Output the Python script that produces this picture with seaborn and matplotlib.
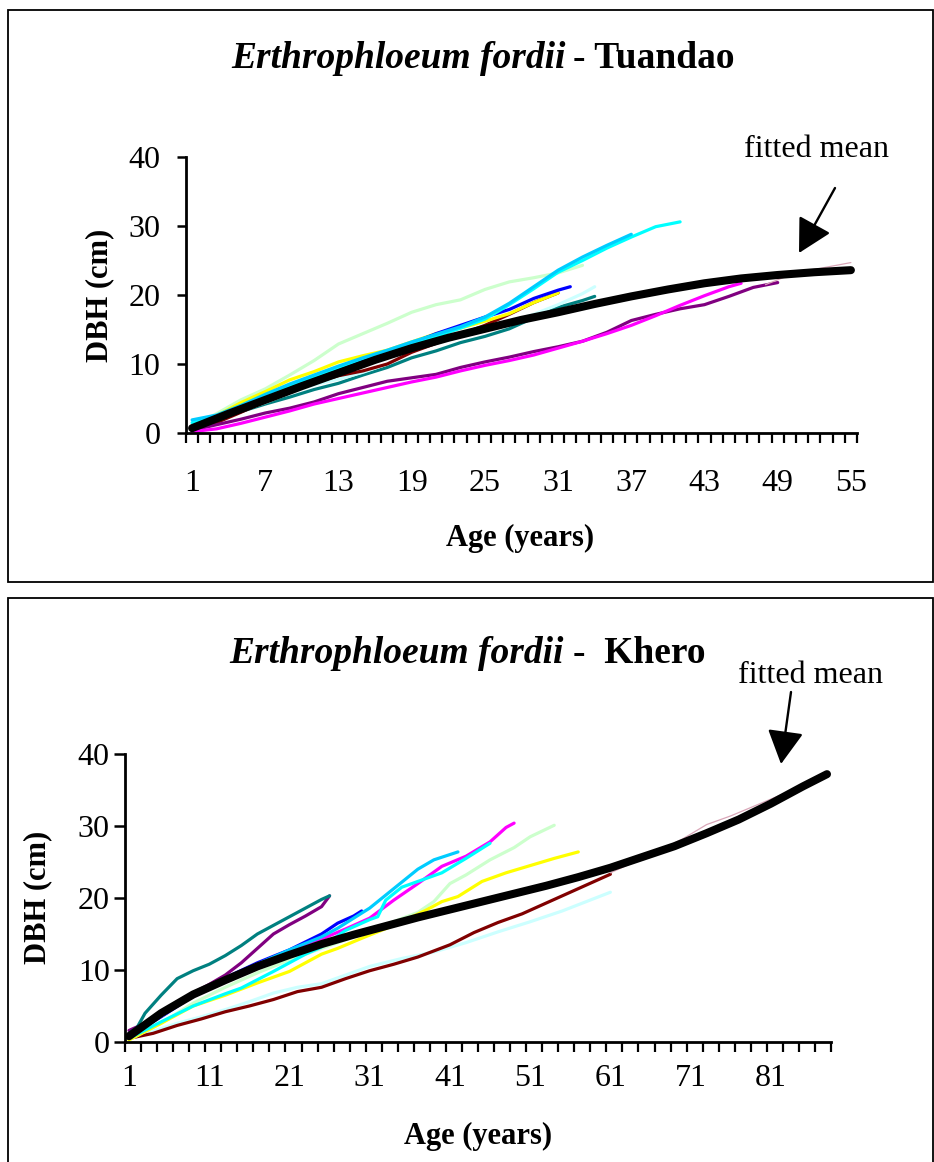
import numpy as np
import pandas as pd
import matplotlib
matplotlib.use("Agg")
import matplotlib.pyplot as plt
import seaborn as sns
from matplotlib.patches import Rectangle
from matplotlib.ticker import FixedLocator

# ---------------- Data: Tuandao (top) ----------------
t_lightgreen_age = [1, 3, 5, 7, 9, 11, 13, 15, 17, 19, 21, 23, 25, 27, 29, 31, 33]
t_lightgreen_dbh = [1.0, 2.8, 4.8, 6.4, 8.4, 10.5, 12.9, 14.4, 15.9, 17.5, 18.6, 19.3, 20.8, 21.9, 22.5, 23.2, 24.3]
t_skyblue_age = [1, 3, 5, 7, 9, 11, 13, 15, 17, 19, 21, 23, 25, 27, 29, 31, 33, 35, 37]
t_skyblue_dbh = [1.9, 2.6, 4.0, 5.6, 7.1, 8.4, 9.7, 10.9, 12.0, 13.2, 14.3, 15.4, 16.8, 18.8, 21.2, 23.6, 25.5, 27.2, 28.8]
t_cyan_age = [1, 3, 5, 7, 9, 11, 13, 15, 17, 19, 21, 23, 25, 27, 29, 31, 33, 35, 37, 39, 41]
t_cyan_dbh = [1.5, 2.4, 3.7, 5.3, 6.9, 8.2, 9.5, 10.8, 11.8, 12.9, 14.0, 15.2, 16.5, 18.6, 20.9, 23.3, 25.0, 26.8, 28.4, 29.9, 30.6]
t_yellow_age = [1, 3, 5, 7, 9, 11, 13, 15, 17, 19, 21, 23, 25, 27, 29, 31]
t_yellow_dbh = [0.8, 2.5, 4.4, 6.0, 7.7, 8.9, 10.3, 11.2, 12.0, 13.2, 14.4, 15.2, 16.2, 17.3, 18.9, 20.3]
t_blue_age = [1, 3, 5, 7, 9, 11, 13, 15, 17, 19, 21, 23, 25, 27, 29, 31, 32]
t_blue_dbh = [0.8, 2.3, 3.9, 5.2, 6.5, 7.9, 9.3, 10.6, 11.8, 13.0, 14.4, 15.6, 16.8, 17.9, 19.5, 20.7, 21.2]
t_darkred_age = [1, 3, 5, 7, 9, 11, 13, 15, 17, 19, 21, 23, 25, 27, 29, 31]
t_darkred_dbh = [0.5, 1.5, 3.0, 4.6, 6.2, 7.3, 8.3, 9.0, 10.0, 11.7, 13.0, 14.3, 15.6, 17.2, 18.9, 20.3]
t_lightcyan_age = [1, 3, 5, 7, 9, 11, 13, 15, 17, 19, 21, 23, 25, 27, 29, 31, 33, 34]
t_lightcyan_dbh = [0.6, 1.8, 3.2, 4.4, 5.8, 7.0, 7.8, 8.8, 10.0, 11.8, 13.0, 14.0, 15.0, 16.0, 17.2, 18.6, 20.2, 21.2]
t_teal_age = [1, 3, 5, 7, 9, 11, 13, 15, 17, 19, 21, 23, 25, 27, 29, 31, 33, 34]
t_teal_dbh = [0.6, 1.8, 3.1, 4.2, 5.2, 6.3, 7.2, 8.4, 9.5, 10.9, 11.9, 13.1, 14.0, 15.1, 16.7, 18.2, 19.2, 19.8]
t_purple_age = [1, 3, 5, 7, 9, 11, 13, 15, 17, 19, 21, 23, 25, 27, 29, 31, 33, 35, 37, 39, 41, 43, 45, 47, 49]
t_purple_dbh = [0.4, 1.2, 2.0, 2.9, 3.6, 4.5, 5.7, 6.6, 7.5, 8.0, 8.5, 9.5, 10.3, 11.0, 11.8, 12.5, 13.3, 14.6, 16.3, 17.2, 18.0, 18.6, 19.8, 21.1, 21.8]
t_magenta_age = [1, 3, 5, 7, 9, 11, 13, 15, 17, 19, 21, 23, 25, 27, 29, 31, 33, 35, 37, 39, 41, 43, 45, 46]
t_magenta_dbh = [0.2, 0.6, 1.4, 2.3, 3.2, 4.2, 5.0, 5.8, 6.6, 7.4, 8.1, 9.0, 9.8, 10.5, 11.3, 12.3, 13.3, 14.4, 15.6, 17.0, 18.5, 19.9, 21.2, 21.7]
t_pink_age = [48, 50, 52, 55]
t_pink_dbh = [21.5, 22.9, 23.7, 24.7]
t_fit_age = [1, 4, 7, 10, 13, 16, 19, 22, 25, 28, 31, 34, 37, 40, 43, 46, 49, 52, 55]
t_fit_dbh = [0.7, 2.8, 4.8, 6.8, 8.7, 10.6, 12.3, 13.8, 15.1, 16.4, 17.5, 18.7, 19.8, 20.8, 21.7, 22.4, 22.9, 23.3, 23.6]
t_xticklabels = [1, 7, 13, 19, 25, 31, 37, 43, 49, 55]

# ---------------- Data: Khero (bottom) ----------------
k_teal_age = [1, 2, 3, 5, 7, 9, 11, 13, 15, 17, 19, 21, 23, 25, 26]
k_teal_dbh = [1.2, 2.0, 4.0, 6.5, 8.8, 9.9, 10.8, 12.0, 13.4, 15.0, 16.2, 17.4, 18.6, 19.8, 20.3]
k_purple_age = [1, 3, 5, 7, 9, 11, 13, 15, 17, 19, 21, 23, 25, 26]
k_purple_dbh = [1.6, 2.6, 4.0, 5.6, 6.8, 8.0, 9.3, 11.0, 13.0, 15.0, 16.3, 17.5, 18.8, 20.3]
k_blue_age = [1, 5, 9, 13, 17, 21, 25, 27, 29, 30]
k_blue_dbh = [0.8, 3.5, 6.4, 8.9, 11.0, 12.8, 15.0, 16.5, 17.5, 18.2]
k_magenta_age = [1, 5, 9, 13, 17, 21, 25, 28, 31, 34, 37, 40, 43, 46, 48, 49]
k_magenta_dbh = [1.0, 3.6, 6.5, 8.8, 10.8, 12.6, 14.3, 15.7, 17.2, 19.7, 22.0, 24.4, 25.8, 27.8, 29.8, 30.4]
k_cyan_age = [1, 5, 9, 13, 15, 19, 23, 25, 28, 31, 32, 33, 35, 37, 40, 43, 46]
k_cyan_dbh = [0.5, 2.8, 5.0, 6.7, 7.5, 9.8, 12.2, 13.2, 15.5, 17.0, 17.4, 19.7, 21.5, 22.3, 23.5, 25.5, 27.6]
k_skyblue_age = [1, 5, 9, 13, 17, 21, 25, 27, 29, 31, 33, 35, 37, 39, 42]
k_skyblue_dbh = [0.8, 3.6, 6.6, 8.8, 10.8, 12.8, 14.6, 15.8, 17.2, 18.6, 20.4, 22.2, 24.0, 25.3, 26.4]
k_yellow_age = [1, 5, 9, 13, 17, 21, 25, 27, 30, 34, 38, 40, 42, 45, 48, 51, 54, 57]
k_yellow_dbh = [0.3, 2.6, 5.0, 6.5, 8.2, 9.8, 12.2, 13.0, 14.4, 16.2, 18.3, 19.5, 20.2, 22.3, 23.5, 24.5, 25.5, 26.4]
k_lightgreen_age = [1, 5, 9, 13, 17, 21, 25, 29, 33, 37, 39, 41, 43, 46, 49, 51, 54]
k_lightgreen_dbh = [0.3, 2.6, 5.4, 7.6, 9.6, 11.4, 13.0, 14.6, 16.3, 18.0, 19.5, 22.0, 23.2, 25.3, 27.0, 28.5, 30.1]
k_darkred_age = [1, 4, 7, 10, 13, 16, 19, 22, 25, 28, 31, 34, 37, 41, 44, 47, 50, 53, 56, 59, 61]
k_darkred_dbh = [0.5, 1.2, 2.3, 3.2, 4.2, 5.0, 5.9, 7.0, 7.6, 8.8, 9.9, 10.8, 11.8, 13.5, 15.2, 16.6, 17.8, 19.3, 20.8, 22.3, 23.3]
k_lightcyan_age = [1, 4, 7, 10, 13, 16, 19, 22, 25, 28, 31, 35, 39, 43, 47, 51, 55, 58, 61]
k_lightcyan_dbh = [0.4, 1.5, 2.6, 3.5, 4.5, 5.6, 6.8, 7.6, 8.1, 9.3, 10.5, 11.6, 12.5, 13.8, 15.3, 16.7, 18.2, 19.5, 20.8]
k_pink_age = [61, 64, 67, 70, 73, 76, 79, 82, 85, 88]
k_pink_dbh = [23.5, 25.0, 26.6, 28.2, 30.2, 31.4, 32.8, 34.2, 35.6, 36.8]
k_fit_age = [1, 5, 9, 13, 17, 21, 25, 29, 33, 37, 41, 45, 49, 53, 57, 61, 65, 69, 73, 77, 81, 85, 88]
k_fit_dbh = [0.8, 4.0, 6.6, 8.6, 10.5, 12.1, 13.6, 14.9, 16.1, 17.3, 18.4, 19.5, 20.6, 21.7, 22.9, 24.2, 25.7, 27.2, 29.0, 30.9, 33.1, 35.5, 37.2]
k_xticklabels = [1, 11, 21, 31, 41, 51, 61, 71, 81]

y_ticks = [0, 10, 20, 30, 40]

colors = {
    "lightgreen": "#CCFFCC", "skyblue": "#00CCFF", "cyan": "#00FFFF",
    "yellow": "#FFFF00", "blue": "#0000FF", "darkred": "#800000",
    "lightcyan": "#CCFFFF", "teal": "#008080", "purple": "#800080",
    "magenta": "#FF00FF",
}

top_series = {
    "lightgreen": (t_lightgreen_age, t_lightgreen_dbh),
    "teal": (t_teal_age, t_teal_dbh),
    "lightcyan": (t_lightcyan_age, t_lightcyan_dbh),
    "darkred": (t_darkred_age, t_darkred_dbh),
    "purple": (t_purple_age, t_purple_dbh),
    "magenta": (t_magenta_age, t_magenta_dbh),
    "yellow": (t_yellow_age, t_yellow_dbh),
    "blue": (t_blue_age, t_blue_dbh),
    "cyan": (t_cyan_age, t_cyan_dbh),
    "skyblue": (t_skyblue_age, t_skyblue_dbh),
}
bottom_series = {
    "lightcyan": (k_lightcyan_age, k_lightcyan_dbh),
    "darkred": (k_darkred_age, k_darkred_dbh),
    "lightgreen": (k_lightgreen_age, k_lightgreen_dbh),
    "yellow": (k_yellow_age, k_yellow_dbh),
    "blue": (k_blue_age, k_blue_dbh),
    "magenta": (k_magenta_age, k_magenta_dbh),
    "cyan": (k_cyan_age, k_cyan_dbh),
    "skyblue": (k_skyblue_age, k_skyblue_dbh),
    "purple": (k_purple_age, k_purple_dbh),
    "teal": (k_teal_age, k_teal_dbh),
}


def long_df(series):
    rows = []
    for name, (ages, vals) in series.items():
        for a, v in zip(ages, vals):
            rows.append((name, a, v))
    return pd.DataFrame(rows, columns=["tree", "age", "dbh"])


sns.set_style("white")
plt.rcParams["font.family"] = ["Liberation Serif", "DejaVu Serif"]
plt.rcParams["text.color"] = "black"

W, H = 934, 1162
fig = plt.figure(figsize=(W / 100, H / 100), dpi=100)


def fx(px):
    return px / W


def fy(py):
    return (H - py) / H


ax1 = fig.add_axes([fx(186), fy(433), (857 - 186) / W, (433 - 157) / H])
ax2 = fig.add_axes([fx(125), fy(1042), (831 - 125) / W, (1042 - 754) / H])


def draw_panel(ax, series, pink_age, pink_dbh, fit_age, fit_dbh):
    df = long_df(series)
    sns.lineplot(data=df, x="age", y="dbh", hue="tree", hue_order=list(series.keys()),
                 palette=colors, estimator=None, legend=False, linewidth=2.3, ax=ax)
    sns.lineplot(x=pink_age, y=pink_dbh, color="#D9A6B8", linewidth=0.9, ax=ax)
    sns.lineplot(x=fit_age, y=fit_dbh, color="black", linewidth=5.8, ax=ax)


draw_panel(ax1, top_series, t_pink_age, t_pink_dbh, t_fit_age, t_fit_dbh)
draw_panel(ax2, bottom_series, k_pink_age, k_pink_dbh, k_fit_age, k_fit_dbh)


def style_axis(ax, n_cat, minor_step, xlabels, xpad, ypad, ylen):
    ax.set_xlim(0.5, n_cat + 0.5)
    ax.set_ylim(0, 40)
    sns.despine(ax=ax)
    for s in ["left", "bottom"]:
        ax.spines[s].set_linewidth(2.0)
        ax.spines[s].set_color("black")
    ax.xaxis.set_major_locator(FixedLocator(xlabels))
    ax.set_xticklabels([str(v) for v in xlabels])
    ax.xaxis.set_minor_locator(FixedLocator(np.arange(0.5, n_cat + 0.51, minor_step)))
    ax.tick_params(axis="x", which="major", bottom=True, length=0, pad=xpad,
                   labelsize=23, labelcolor="black")
    ax.tick_params(axis="x", which="minor", bottom=True, length=7, width=1.6,
                   direction="out", color="black")
    ax.set_yticks(y_ticks)
    ax.set_yticklabels([str(v) for v in y_ticks])
    ax.tick_params(axis="y", which="major", left=True, length=ylen, width=1.8,
                   direction="out", color="black", pad=ypad, labelsize=23,
                   labelcolor="black")
    ax.set_xlabel("")
    ax.set_ylabel("")
    ax.patch.set_alpha(0)


style_axis(ax1, 55, 1, t_xticklabels, 26, 12, 6.5)
style_axis(ax2, 88, 2, k_xticklabels, 16, 3, 8)

# Panel frames
fig.add_artist(Rectangle((fx(8), fy(582)), (933 - 8) / W, (582 - 10) / H,
                         transform=fig.transFigure, fill=False, lw=1.3, ec="black"))
fig.add_artist(Rectangle((fx(8), fy(1175)), (933 - 8) / W, (1175 - 598) / H,
                         transform=fig.transFigure, fill=False, lw=1.3, ec="black"))

# Titles
title_kw = dict(fontsize=27, fontweight="bold", color="black", va="baseline")
fig.text(fx(566), fy(68), "Erthrophloeum fordii", ha="right", fontstyle="italic", **title_kw)
fig.text(fx(573), fy(68), "- Tuandao", ha="left", **title_kw)
fig.text(fx(564), fy(663), "Erthrophloeum fordii", ha="right", fontstyle="italic", **title_kw)
fig.text(fx(573), fy(663), "-  Khero", ha="left", **title_kw)

# Axis labels
lab_kw = dict(fontsize=22, fontweight="bold", color="black", ha="center", va="center")
fig.text(fx(520), fy(538), "Age (years)", **lab_kw)
fig.text(fx(478), fy(1136), "Age (years)", **lab_kw)
fig.text(fx(100), fy(295), "DBH (cm)", rotation=90, **lab_kw)
fig.text(fx(38), fy(897), "DBH (cm)", rotation=90, **lab_kw)

# fitted mean annotations
fig.text(fx(816), fy(157), "fitted mean", fontsize=23, ha="center", va="baseline", color="black")
fig.text(fx(810), fy(683), "fitted mean", fontsize=23, ha="center", va="baseline", color="black")
arrow_kw = dict(arrowstyle="-|>,head_length=0.65,head_width=0.35", color="black",
                lw=1.7, mutation_scale=32, shrinkA=0, shrinkB=0)
ax1.annotate("", xy=(799, H - 253), xycoords="figure pixels",
             xytext=(835, H - 188), textcoords="figure pixels", arrowprops=arrow_kw)
ax2.annotate("", xy=(781, H - 764), xycoords="figure pixels",
             xytext=(791, H - 692), textcoords="figure pixels", arrowprops=arrow_kw)

fig.savefig("out.png", dpi=100, facecolor="white")
